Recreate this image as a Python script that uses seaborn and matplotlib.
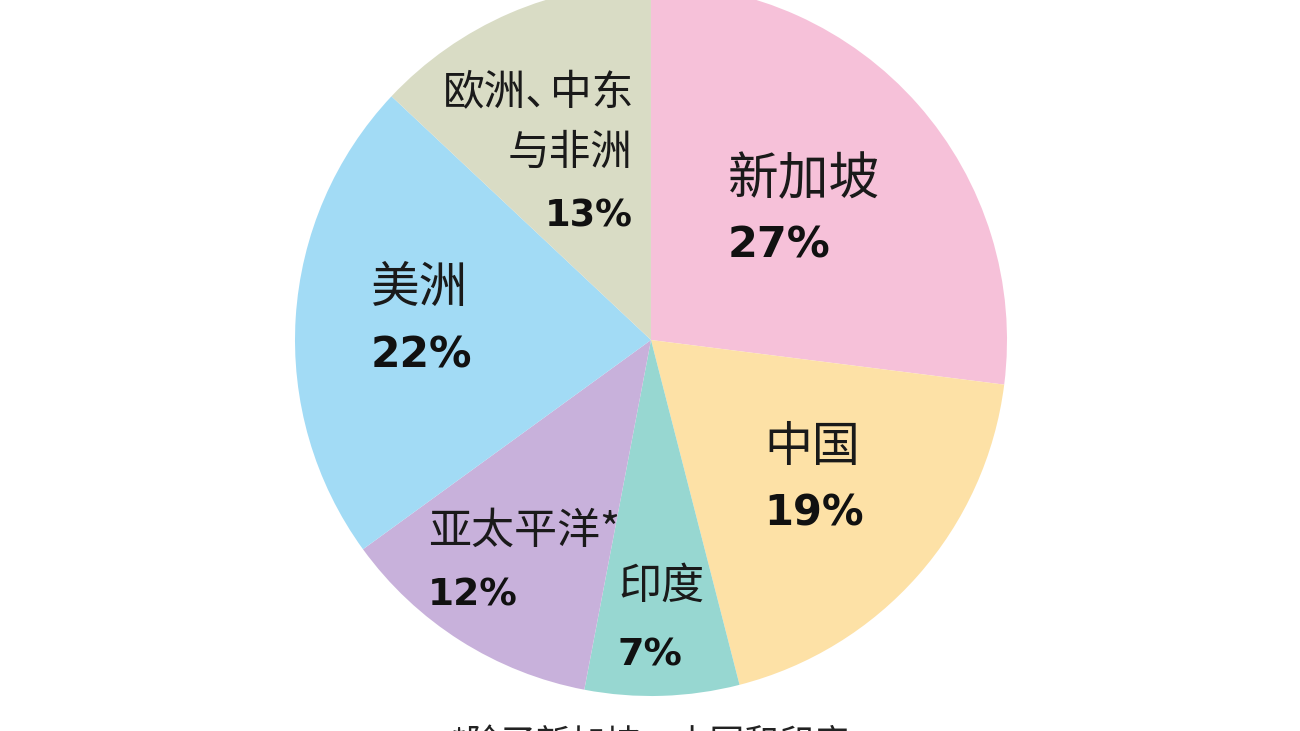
import matplotlib.pyplot as plt
import seaborn as sns

regions = ['新加坡', '中国', '印度', '亚太平洋*', '美洲', '欧洲、中东\n与非洲']
shares = [27, 19, 7, 12, 22, 13]
colors = ['#F6C1D9', '#FDE1A6', '#97D7D1', '#C8B1DB', '#A2DBF5', '#D9DCC5']
footnote = '*除了新加坡、中国和印度'

sns.set_theme(style='white')
plt.rcParams['font.family'] = ['Noto Sans CJK SC', 'DejaVu Sans']

fig = plt.figure(figsize=(13, 7.31), dpi=100)
ax = fig.add_axes([0, 0, 1, 1])

# pixel-like coordinates, y measured from the bottom
H = 731
cx, cy, r = 651, H - 340, 356
ax.pie(shares, colors=colors, startangle=90, counterclock=False,
       radius=r, center=(cx, cy), wedgeprops=dict(linewidth=0))
ax.set_xlim(0, 1300)
ax.set_ylim(0, H)
ax.set_aspect('equal')
ax.axis('off')

# label x, y of first line (from top), line gap, alignment, name size, percent size
label_pos = [(728, 180, 62, 'left', 36.5, 31), (764, 447, 63, 'left', 34.5, 30),
             (618, 587, 65, 'left', 31, 27.5), (428, 532, 61, 'left', 31, 27),
             (371, 288, 65, 'left', 35, 30.5), (633, 93, 60, 'right', 30, 26.5)]

for name, val, (x, y, gap, ha, fs, pfs) in zip(regions, shares, label_pos):
    lines = name.split('\n')
    for i, line in enumerate(lines):
        yy = H - y - gap * i
        if '、' in line and ha == 'right':
            # full-width comma is drawn tighter, as in the original
            left, right = line.split('、')
            ax.text(x, yy, right, fontsize=fs, ha='right', va='center',
                    fontweight='medium', color='#1a1a1a')
            ax.text(x - fs * 1.39 * len(right) + fs * 0.6, yy, left + '、', fontsize=fs,
                    ha='right', va='center', fontweight='medium', color='#1a1a1a')
        else:
            ax.text(x, yy, line, fontsize=fs, ha=ha, va='center',
                    fontweight='medium', color='#1a1a1a')
    ax.text(x, H - y - gap * len(lines) - 3, f'{val}%', fontsize=pfs, ha=ha,
            va='center', fontweight='bold', family='DejaVu Sans', color='#111111')

ax.text(650, H - 745, footnote, fontsize=25, ha='center', va='center', color='#222222')

plt.savefig('out.png', dpi=100)
